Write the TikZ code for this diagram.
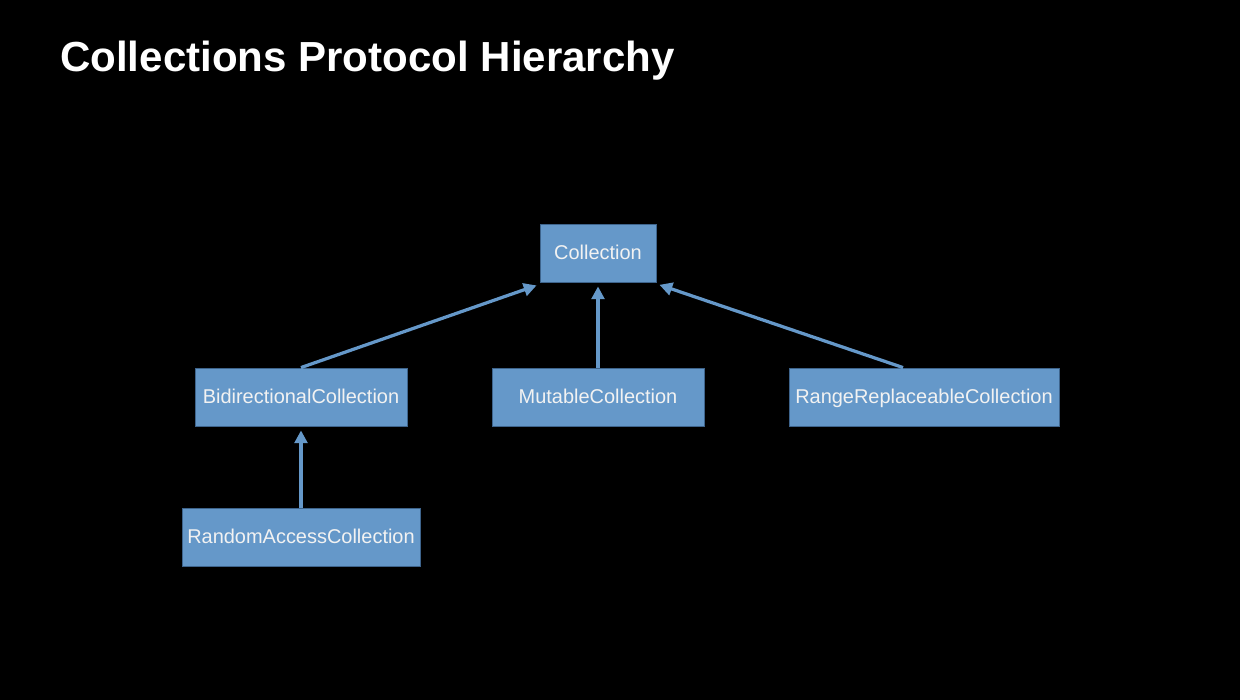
\documentclass[tikz,border=0pt]{standalone}
\usepackage{fontspec}
\setmainfont{Liberation Sans}
\usepackage{tikz}
\usetikzlibrary{arrows.meta,positioning}
\definecolor{protofill}{RGB}{101,152,201}
\definecolor{protoedge}{RGB}{62,100,140}
\definecolor{prototext}{RGB}{242,242,242}
\tikzset{
  proto/.style={draw=protoedge, line width=0.6pt, fill=protofill, text=prototext,
                inner sep=0pt, minimum height=1.45cm, text height=2.25ex, text depth=0.45ex,
                font=\fontsize{14.2}{16}\selectfont},
  inharr/.style={-{Triangle[length=0.32cm, width=0.32cm]}, protofill, line width=2.3pt},
  slidetitle/.style={text=white, inner sep=0pt, anchor=base west,
                     font=\fontsize{29.9}{34}\selectfont\bfseries},
}

\begin{document}
\begin{tikzpicture}
    \fill[black] (0,0) rectangle (31,17.5);
    \useasboundingbox (0,0) rectangle (31,17.5);
    \node[slidetitle] (title) at (1.5,15.7) {Collections Protocol Hierarchy};
    % protocols
    \node[proto, minimum width=2.9cm]  (coll)   at (14.95,11.175) {Collection};
    \node[proto, minimum width=5.3cm]  (bidi)   at (7.525,7.575)  {BidirectionalCollection};
    \node[proto, minimum width=5.3cm]  (mutable) at (14.95,7.575) {MutableCollection};
    \node[proto, minimum width=6.75cm] (range)  at (23.1,7.575)   {RangeReplaceableCollection};
    \node[proto, minimum width=5.95cm] (random) at (7.525,4.075)  {RandomAccessCollection};
    % refinements
    \draw[inharr] (bidi.north) -- ([shift={(-0.075,-0.075)}]coll.south west);
    \draw[inharr] (mutable.north) -- ([yshift=-0.1cm]coll.south);
    \draw[inharr] ([xshift=-0.525cm]range.north) -- ([shift={(0.075,-0.06)}]coll.south east);
    \draw[inharr] (random.north) -- ([yshift=-0.1cm]bidi.south);
\end{tikzpicture}
\end{document}
